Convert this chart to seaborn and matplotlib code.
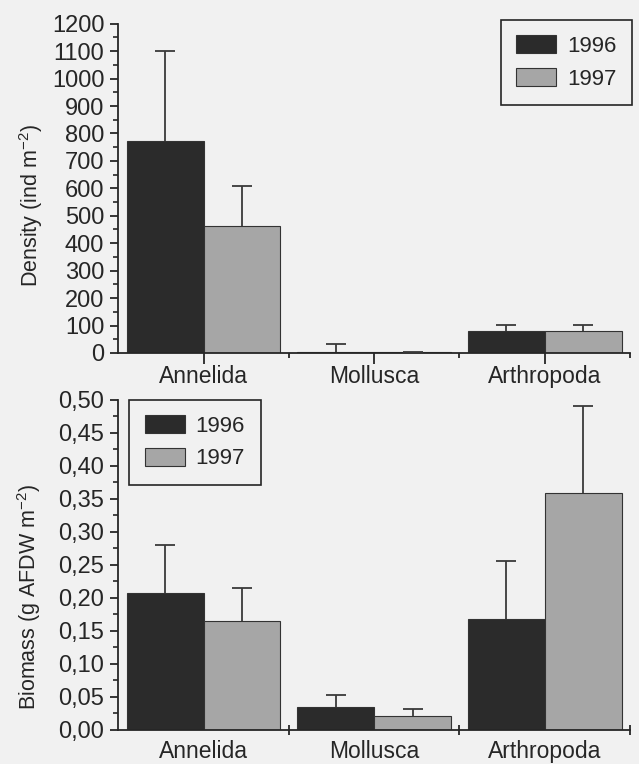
import numpy as np
import pandas as pd
import matplotlib
matplotlib.use("Agg")
import matplotlib.pyplot as plt
from matplotlib.ticker import FixedLocator, MultipleLocator, FuncFormatter
import seaborn as sns

# ---------------- data ----------------
categories = ["Annelida", "Mollusca", "Arthropoda"]
years = ["1996", "1997"]

density_1996 = [772, 5, 79]
density_1997 = [464, 3, 79]
density_err_1996 = [328, 28, 24]
density_err_1997 = [144, 2, 24]

biomass_1996 = [0.207, 0.034, 0.168]
biomass_1997 = [0.164, 0.020, 0.359]
biomass_err_1996 = [0.072, 0.018, 0.088]
biomass_err_1997 = [0.051, 0.011, 0.132]

density_ticks = list(range(0, 1201, 100))
biomass_ticks = [0.00, 0.05, 0.10, 0.15, 0.20, 0.25, 0.30, 0.35, 0.40, 0.45, 0.50]

# ---------------- style ----------------
sns.set_style("ticks")
BG = "#f1f1f1"
DARK = "#2b2b2b"
LIGHT = "#a6a6a6"
INK = "#262626"
plt.rcParams["font.family"] = ["Liberation Sans", "DejaVu Sans"]
plt.rcParams.update({
    "figure.facecolor": BG,
    "axes.facecolor": BG,
    "axes.edgecolor": INK,
    "axes.linewidth": 1.3,
    "xtick.color": INK,
    "ytick.color": INK,
    "text.color": INK,
    "axes.labelcolor": INK,
    "mathtext.default": "regular",
})


def make_df(v96, v97):
    return pd.DataFrame({
        "category": categories * 2,
        "year": [years[0]] * 3 + [years[1]] * 3,
        "value": list(v96) + list(v97),
    })


fig = plt.figure(figsize=(6.39, 7.64), dpi=100)
ax1 = fig.add_axes([0.185, 0.538, 0.801, 0.431])
ax2 = fig.add_axes([0.185, 0.045, 0.801, 0.432])

panels = [
    dict(ax=ax1, df=make_df(density_1996, density_1997),
         errs=[density_err_1996, density_err_1997], ylim=(0, 1200),
         yticks=density_ticks, minor=50, ylabel="Density (ind m$^{-2}$)",
         loc="upper right", anchor=(1.004, 1.012), fmt=lambda v, p: f"{v:.0f}",
         xmaj_len=8, xmaj_pad=1, bdir="out", blen=3.6,
         label_coords=(-0.144, 0.447)),
    dict(ax=ax2, df=make_df(biomass_1996, biomass_1997),
         errs=[biomass_err_1996, biomass_err_1997], ylim=(0, 0.5),
         yticks=biomass_ticks, minor=0.025, ylabel="Biomass (g AFDW m$^{-2}$)",
         loc="upper left", anchor=(0.021, 1.0),
         fmt=lambda v, p: f"{v:.2f}".replace(".", ","),
         xmaj_len=0, xmaj_pad=7.5, bdir="inout", blen=7,
         label_coords=(-0.146, 0.403)),
]

for P in panels:
    ax = P["ax"]
    sns.barplot(data=P["df"], x="category", y="value", hue="year", order=categories,
                hue_order=years, palette=[DARK, LIGHT], width=0.9, errorbar=None,
                edgecolor="#333333", linewidth=0.8, saturation=1, ax=ax, zorder=2)
    for cont, err in zip(ax.containers, P["errs"]):
        xs = np.array([b.get_x() + b.get_width() / 2 for b in cont])
        ys = np.array([b.get_height() for b in cont])
        eb = ax.errorbar(xs, ys, yerr=[np.zeros(len(err)), err], fmt="none",
                         ecolor="#3a3a3a", elinewidth=1.3, capsize=7.2,
                         capthick=1.3, zorder=3)
        for cap in eb[1]:
            if np.allclose(cap.get_ydata(), ys):
                cap.set_visible(False)
    ax.set_xlim(-0.5, 2.5)
    ax.set_ylim(*P["ylim"])
    ax.set_yticks(P["yticks"])
    ax.yaxis.set_minor_locator(MultipleLocator(P["minor"]))
    ax.yaxis.set_major_formatter(FuncFormatter(P["fmt"]))
    ax.xaxis.set_minor_locator(FixedLocator([0.5, 1.5, 2.5]))
    ax.tick_params(axis="y", which="major", direction="out", length=6, width=1.3,
                   labelsize=17, pad=4)
    ax.tick_params(axis="y", which="minor", direction="out", length=3.5, width=1.2)
    ax.tick_params(axis="x", which="major", direction="out", length=P["xmaj_len"],
                   width=1.3, labelsize=16.5, pad=P["xmaj_pad"])
    ax.tick_params(axis="x", which="minor", direction=P["bdir"], length=P["blen"],
                   width=1.3)
    sns.despine(ax=ax)
    ax.set_xlabel("")
    ax.set_ylabel(P["ylabel"], fontsize=15.5)
    ax.yaxis.set_label_coords(*P["label_coords"])
    handles, labels = ax.get_legend_handles_labels()
    ax.get_legend().remove()
    leg = ax.legend(handles, labels, loc=P["loc"], bbox_to_anchor=P["anchor"],
                    borderaxespad=0, fontsize=16, frameon=True, fancybox=False,
                    edgecolor=INK, facecolor=BG, framealpha=1,
                    handlelength=1.8, handleheight=0.86, handletextpad=0.5,
                    borderpad=0.7, labelspacing=0.5)
    leg.get_frame().set_linewidth(1.2)

fig.savefig("out.png", dpi=100, facecolor=BG)
